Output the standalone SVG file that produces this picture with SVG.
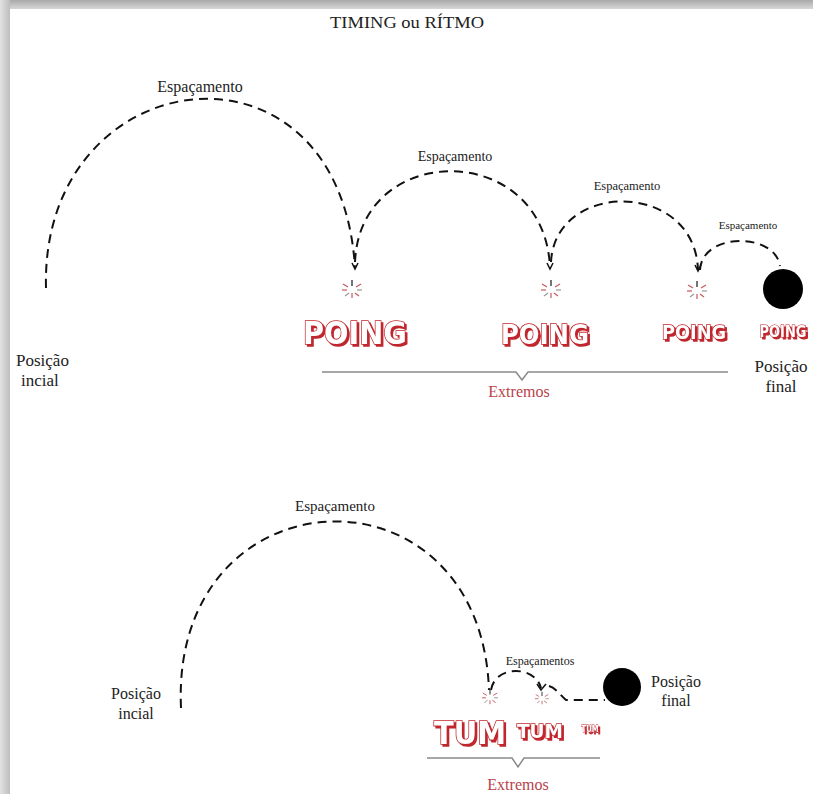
<svg xmlns="http://www.w3.org/2000/svg" width="813" height="794" viewBox="0 0 813 794">
  <defs>
    <linearGradient id="topShade" x1="0" y1="0" x2="0" y2="1">
      <stop offset="0" stop-color="#a9a9a9"/>
      <stop offset="1" stop-color="#dcdcdc"/>
    </linearGradient>
    <linearGradient id="leftShade" x1="0" y1="0" x2="1" y2="0">
      <stop offset="0" stop-color="#e2e2e2"/>
      <stop offset="1" stop-color="#bdbdbd"/>
    </linearGradient>
    <!-- red cast shadow behind the sound-effect lettering -->
    <filter id="sfxShadow" x="-10%" y="-20%" width="130%" height="150%">
      <feOffset in="SourceAlpha" dx="2" dy="2" result="off"/>
      <feFlood flood-color="#c0262d"/>
      <feComposite in2="off" operator="in" result="shadow"/>
      <feMerge>
        <feMergeNode in="shadow"/>
        <feMergeNode in="SourceGraphic"/>
      </feMerge>
    </filter>
    <g id="burst">
      <line x1="0" y1="-9" x2="0" y2="-3" stroke="#444" stroke-width="1.5"/>
      <line x1="-9" y1="-5" x2="-4" y2="-2" stroke="#c65a5a" stroke-width="1.2"/>
      <line x1="9" y1="-5" x2="4" y2="-2" stroke="#c65a5a" stroke-width="1.2"/>
      <line x1="-10" y1="1" x2="-5" y2="1" stroke="#c65a5a" stroke-width="1.2"/>
      <line x1="10" y1="1" x2="5" y2="1" stroke="#999" stroke-width="1.2"/>
      <line x1="-7" y1="7" x2="-3" y2="4" stroke="#999" stroke-width="1.2"/>
      <line x1="7" y1="7" x2="3" y2="4" stroke="#c65a5a" stroke-width="1.2"/>
      <line x1="0" y1="9" x2="0" y2="4" stroke="#c65a5a" stroke-width="1.2"/>
    </g>
  </defs>
  <style>
    .arc { fill: none; stroke: #111; stroke-width: 2; stroke-dasharray: 9 6; }
    .tip { fill: none; stroke: #111; stroke-width: 1.5; }
    .lbl { font-family: "Liberation Serif", "Times New Roman", serif; fill: #222; }
    .red { font-family: "Liberation Serif", "Times New Roman", serif; fill: #b8434b; }
    .brace { fill: none; stroke: #8a8a8a; stroke-width: 1.5; }
    .sfx { font-family: "DejaVu Sans", "Liberation Sans", sans-serif; font-weight: bold; fill: #ffffff; stroke: #c0262d; stroke-width: 1.6; paint-order: stroke; filter: url(#sfxShadow); }
    .ball { fill: #000; }
  </style>

  <!-- page with soft edge shading -->
  <rect x="0" y="0" width="813" height="794" fill="#d4d4d4"/>
  <rect x="0" y="0" width="813" height="10" fill="url(#topShade)"/>
  <rect x="0" y="0" width="10" height="794" fill="url(#leftShade)"/>
  <rect x="10" y="9" width="803" height="785" fill="#ffffff"/>

  <text class="lbl" x="407" y="28" font-size="17" text-anchor="middle" textLength="154" lengthAdjust="spacingAndGlyphs">TIMING ou RÍTMO</text>

  <!-- bounce paths -->
  <g id="connectors">
    <path class="arc" d="M46,288 C40,60 340,20 355,268"/>
    <path class="arc" d="M355,262 C360,140 545,140 550,268"/>
    <path class="arc" d="M551,262 C555,180 695,180 698,270"/>
    <path class="arc" d="M700,270 C702,232 775,232 780,266"/>
    <path class="tip" d="M352,263 L355,269 L358,263"/>
    <path class="tip" d="M547,263 L550,269 L553,263"/>
    <path class="tip" d="M695,265 L698,271 L701,265"/>

    <path class="arc" d="M181,708 C170,470 480,455 489,690"/>
    <path class="arc" d="M491,690 C495,665 535,665 541,688"/>
    <path class="tip" d="M537,684 L541,690 L546,684"/>
    <path class="arc" d="M549,686 C556,688 560,695 566,700 L605,700"/>
  </g>

  <!-- upper sequence -->
  <g id="start-top">
    <text class="lbl" x="16" y="366" font-size="17">Posição</text>
    <text class="lbl" x="21" y="386" font-size="17">incial</text>
  </g>
  <g id="label-spacing-1"><text class="lbl" x="200" y="92" font-size="16" text-anchor="middle">Espaçamento</text></g>
  <g id="label-spacing-2"><text class="lbl" x="455" y="161" font-size="14" text-anchor="middle">Espaçamento</text></g>
  <g id="label-spacing-3"><text class="lbl" x="627" y="190" font-size="12.5" text-anchor="middle">Espaçamento</text></g>
  <g id="label-spacing-4"><text class="lbl" x="748" y="229" font-size="11" text-anchor="middle">Espaçamento</text></g>

  <g id="impact-1">
    <use href="#burst" x="352" y="289"/>
    <text class="sfx" x="355" y="344" font-size="32" text-anchor="middle" textLength="104" lengthAdjust="spacingAndGlyphs">POING</text>
  </g>
  <g id="impact-2">
    <use href="#burst" x="551" y="289"/>
    <text class="sfx" x="545" y="344" font-size="27" text-anchor="middle" textLength="88" lengthAdjust="spacingAndGlyphs">POING</text>
  </g>
  <g id="impact-3">
    <use href="#burst" x="697" y="290"/>
    <text class="sfx" x="694" y="339" font-size="20" text-anchor="middle" textLength="64" lengthAdjust="spacingAndGlyphs">POING</text>
  </g>
  <g id="impact-4">
    <text class="sfx" x="783" y="337" font-size="15" text-anchor="middle" textLength="47" lengthAdjust="spacingAndGlyphs" style="stroke-width:1.2">POING</text>
  </g>

  <g id="end-top">
    <circle class="ball" cx="783" cy="289" r="20"/>
    <text class="lbl" x="781" y="372" font-size="17" text-anchor="middle">Posição</text>
    <text class="lbl" x="781" y="392" font-size="17" text-anchor="middle">final</text>
  </g>

  <g id="extremes-top">
    <path class="brace" d="M322,372 L516,372 L522,380 L528,372 L728,372"/>
    <text class="red" x="519" y="397" font-size="16" text-anchor="middle">Extremos</text>
  </g>

  <!-- lower sequence -->
  <g id="start-bottom">
    <text class="lbl" x="136" y="699" font-size="16" text-anchor="middle">Posição</text>
    <text class="lbl" x="136" y="719" font-size="16" text-anchor="middle">incial</text>
  </g>
  <g id="label-spacing-bottom"><text class="lbl" x="335" y="511" font-size="15" text-anchor="middle">Espaçamento</text></g>
  <g id="label-spacings-bottom"><text class="lbl" x="540" y="665" font-size="12" text-anchor="middle">Espaçamentos</text></g>

  <g id="impact-b1">
    <use href="#burst" transform="translate(490 697) scale(0.8)"/>
    <text class="sfx" x="470" y="744" font-size="32" text-anchor="middle" textLength="72" lengthAdjust="spacingAndGlyphs">TUM</text>
  </g>
  <g id="impact-b2">
    <use href="#burst" transform="translate(542 698) scale(0.7)"/>
    <text class="sfx" x="540" y="738" font-size="20" text-anchor="middle" textLength="46" lengthAdjust="spacingAndGlyphs">TUM</text>
  </g>
  <g id="impact-b3">
    <text class="sfx" x="590" y="732" font-size="9" text-anchor="middle" textLength="17" lengthAdjust="spacingAndGlyphs" style="stroke-width:0.8">TUM</text>
  </g>

  <g id="end-bottom">
    <circle class="ball" cx="622" cy="687" r="19"/>
    <text class="lbl" x="676" y="687" font-size="16" text-anchor="middle">Posição</text>
    <text class="lbl" x="676" y="706" font-size="16" text-anchor="middle">final</text>
  </g>

  <g id="extremes-bottom">
    <path class="brace" d="M427,758 L512,758 L518,767 L524,758 L600,758"/>
    <text class="red" x="518" y="790" font-size="16" text-anchor="middle">Extremos</text>
  </g>
</svg>
